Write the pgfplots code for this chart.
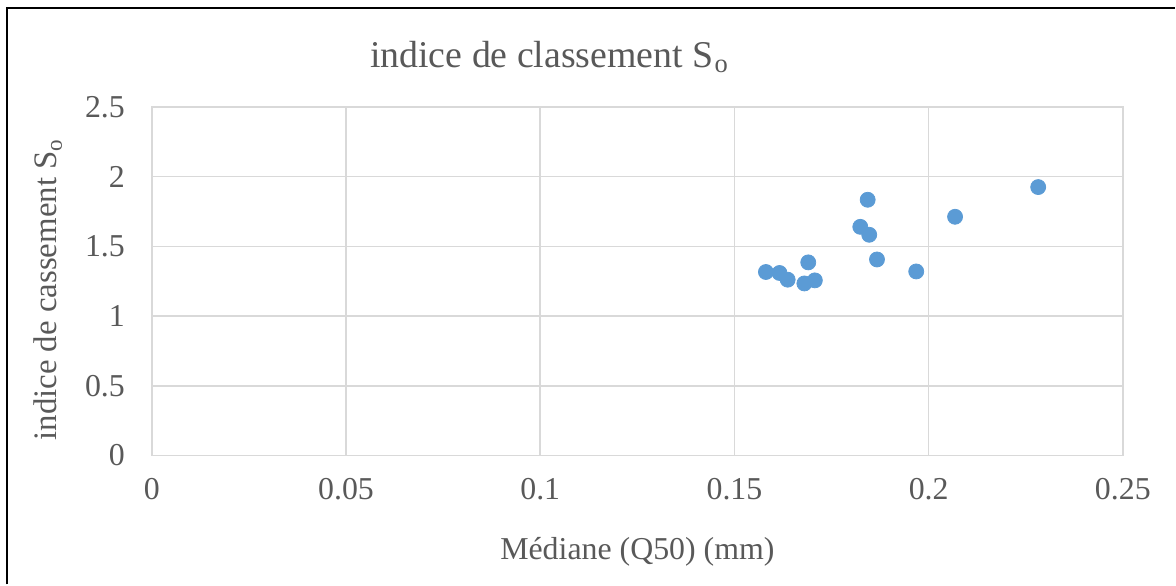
\documentclass[border=0pt]{standalone}
\usepackage{fontspec}
\setmainfont{Liberation Serif}
\usepackage{pgfplots}
\pgfplotsset{compat=1.18}
\definecolor{pt}{HTML}{5B9BD5}
\definecolor{txt}{HTML}{595959}
\definecolor{grd}{HTML}{D9D9D9}
\begin{document}
\begin{tikzpicture}
\path (0,0) rectangle (588bp,292.5bp);
\draw[black,line width=1.2bp] (3.5bp,0) -- (3.5bp,288.5bp) -- (588bp,288.5bp);
\begin{axis}[
  at={(76bp,64.5bp)}, anchor=origin,
  scale only axis, width=486bp, height=174.5bp,
  xmin=0, xmax=0.25, ymin=0, ymax=2.5,
  xtick={0,0.05,...,0.25}, ytick={0,0.5,...,2.5},
  xticklabels={0,0.05,0.1,0.15,0.2,0.25},
  yticklabels={0,0.5,1,1.5,2,2.5},
  grid=major, major grid style={grd, line width=0.8bp},
  axis line style={grd, line width=0.8bp},
  major tick length=0,
  tick label style={font=\fontsize{16}{19}\selectfont, text=txt},
  /pgf/number format/assume math mode=true,
  yticklabel style={xshift=-10bp},
  xticklabel style={yshift=-8bp},
  clip=false,
]
\addplot[only marks, mark=*, mark size=3.75bp, mark options={fill=pt, draw=pt}] coordinates {
(0.1843,1.834) (0.2282,1.925) (0.2068,1.712) (0.1824,1.640) (0.1847,1.583)
(0.1867,1.406) (0.1968,1.320) (0.1690,1.385) (0.1581,1.316) (0.1616,1.309)
(0.1637,1.261) (0.1680,1.234) (0.1707,1.256)
};
\end{axis}
\node[text=txt, font=\fontsize{19}{22}\selectfont] at (275bp,264bp) {indice de classement S\kern0.5pt\textsubscript{o}};
\node[text=txt, font=\fontsize{16}{19}\selectfont] at (319bp,16.5bp) {Médiane (Q50) (mm)};
\node[text=txt, font=\fontsize{16.5}{19}\selectfont, rotate=90] at (24bp,147.5bp) {indice de cassement S\textsubscript{o}};
\end{tikzpicture}
\end{document}
